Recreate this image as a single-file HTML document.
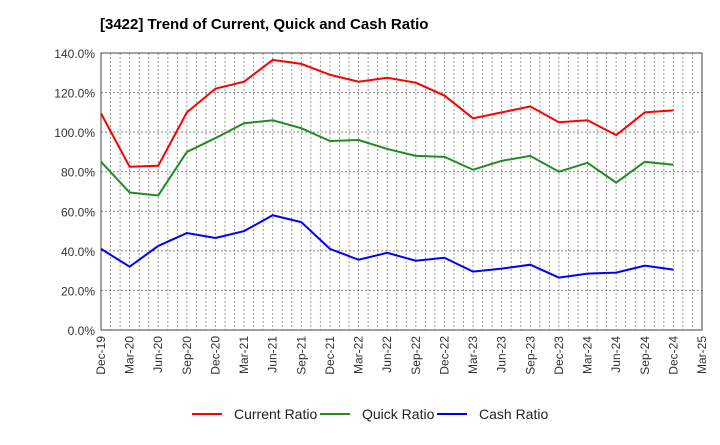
<!DOCTYPE html>
<html><head><meta charset="utf-8"><style>
body{margin:0;background:#fff;font-family:"Liberation Sans",sans-serif}
svg text{font-family:"Liberation Sans",sans-serif}
</style></head><body>
<svg id="chart" width="720" height="440" viewBox="0 0 720 440" xmlns="http://www.w3.org/2000/svg">
<text x="100" y="29" font-size="15" font-weight="bold" fill="#000">[3422]  Trend of Current, Quick and Cash Ratio</text>
<g id="grid"></g><g id="axes"></g><g id="series"></g>
<g id="legend"></g>
</svg>
<script>
const categories=["Dec-19","Mar-20","Jun-20","Sep-20","Dec-20","Mar-21","Jun-21","Sep-21","Dec-21","Mar-22","Jun-22","Sep-22","Dec-22","Mar-23","Jun-23","Sep-23","Dec-23","Mar-24","Jun-24","Sep-24","Dec-24","Mar-25"];
const currentRatio=[109.5,82.5,83,110,122,125.5,136.5,134.5,129,125.5,127.5,125,118.5,107,110,113,105,106,98.5,110,111];
const quickRatio=[85,69.5,68,90,97,104.5,106,102,95.5,96,91.5,88,87.5,81,85.5,88,80,84.5,74.5,85,83.5];
const cashRatio=[41,32,42.5,49,46.5,50,58,54.5,41,35.5,39,35,36.5,29.5,31,33,26.5,28.5,29,32.5,30.5];
const yTicks=[0,20,40,60,80,100,120,140];
const L=101,R=702,T=53,B=330;
const ns="http://www.w3.org/2000/svg";
const x=i=>L+(R-L)*i/(categories.length-1);
const y=v=>B-(B-T)*v/140;
function mk(tag,attrs,parent){const e=document.createElementNS(ns,tag);for(const k in attrs)e.setAttribute(k,attrs[k]);parent.appendChild(e);return e;}
const grid=document.getElementById('grid'),axes=document.getElementById('axes'),series=document.getElementById('series'),legend=document.getElementById('legend');
for(let m=1;m<(categories.length-1)*3;m++){const xx=L+(R-L)*m/((categories.length-1)*3);
const g=mk('line',{x1:xx,x2:xx,y1:T,y2:B,stroke:'#999','stroke-dasharray':'2,2','stroke-width':1},grid);

}
yTicks.forEach(v=>{
const g=mk('line',{x1:L,x2:R,y1:y(v),y2:y(v),stroke:'#888','stroke-dasharray':'2,2','stroke-width':1},grid);


const t=mk('text',{x:L-6,y:y(v)+5,'text-anchor':'end','font-size':12,fill:'#333'},axes);
t.textContent=v.toFixed(1)+'%';

});
const frame=mk('rect',{x:L,y:T,width:R-L,height:B-T,fill:'none',stroke:'#444','stroke-width':1},axes);


categories.forEach((c,i)=>{
const t=mk('text',{x:x(i)+4,y:B+6,'text-anchor':'end','font-size':12,fill:'#333',transform:`rotate(-90 ${x(i)+4} ${B+6})`},axes);
t.textContent=c;

});
const defs=[[currentRatio,'#ff0000','Current Ratio','current-ratio-line'],[quickRatio,'#228b22','Quick Ratio','quick-ratio-line'],[cashRatio,'#0000ff','Cash Ratio','cash-ratio-line']];
defs.forEach(([d,col,name,dn],k)=>{
const p=mk('polyline',{points:d.map((v,i)=>x(i)+','+y(v)).join(' '),fill:'none',stroke:col,'stroke-width':2},series);


const lx=[192,320,437][k];
const ll=mk('line',{x1:lx,x2:lx+30,y1:414,y2:414,stroke:col,'stroke-width':2},legend);


const lt=mk('text',{x:lx+42,y:419,'font-size':14,fill:'#222'},legend);
lt.textContent=name;

});
</script>
</body></html>
